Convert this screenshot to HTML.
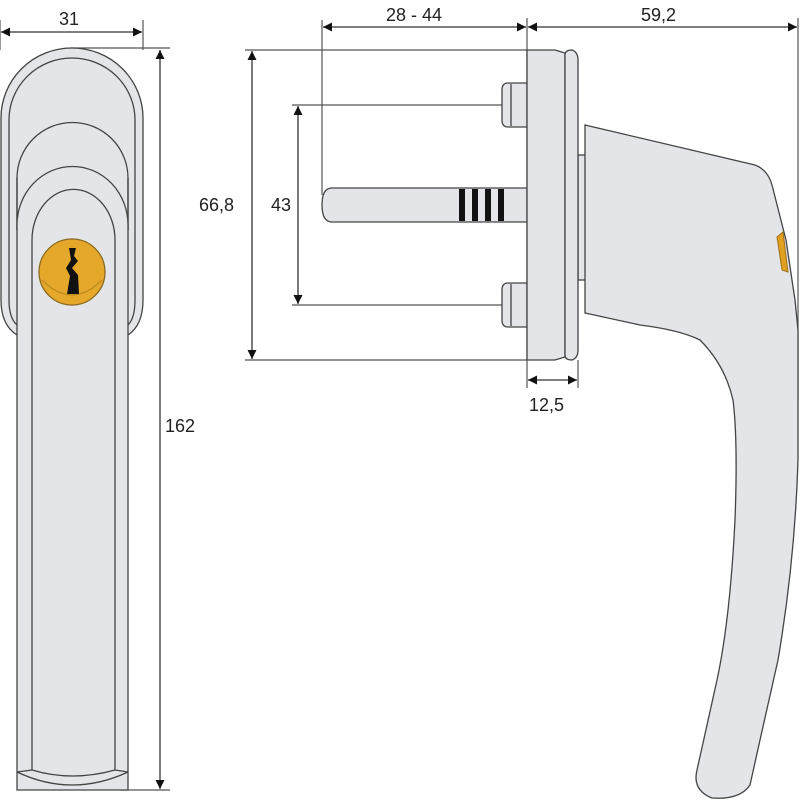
<!DOCTYPE html>
<html><head><style>html,body{margin:0;padding:0;background:#fff}svg{display:block}text{font-family:"Liberation Sans",sans-serif;font-size:18px;fill:#222}</style></head>
<body>
<svg width="800" height="800" viewBox="0 0 800 800" xmlns="http://www.w3.org/2000/svg">
<defs>
<marker id="a" viewBox="0 0 10 10" refX="10" refY="5" markerWidth="12" markerHeight="9" markerUnits="userSpaceOnUse" orient="auto-start-reverse"><path d="M0,0 L10,5 L0,10 z" fill="#111"/></marker>
</defs>
<g stroke="#555" stroke-width="1.2" fill="none">
<line x1="0" y1="20" x2="0" y2="50"/>
<line x1="143" y1="20" x2="143" y2="50"/>
<line x1="70" y1="48" x2="170" y2="48"/>
<line x1="120" y1="790" x2="170" y2="790"/>
<line x1="322" y1="20" x2="322" y2="195"/>
<line x1="527" y1="18" x2="527" y2="388"/>
<line x1="578" y1="360" x2="578" y2="388"/>
<line x1="798" y1="18" x2="798" y2="400"/>
<line x1="245" y1="50" x2="527" y2="50"/>
<line x1="292" y1="105" x2="502" y2="105"/>
<line x1="292" y1="305" x2="502" y2="305"/>
<line x1="245" y1="360" x2="527" y2="360"/>
</g>
<g stroke="#333" stroke-width="1.3" fill="none" marker-start="url(#a)" marker-end="url(#a)">
<line x1="1" y1="32" x2="142" y2="32"/>
<line x1="160" y1="50" x2="160" y2="789"/>
<line x1="323" y1="27" x2="526" y2="27"/>
<line x1="528" y1="27" x2="797" y2="27"/>
<line x1="252" y1="51" x2="252" y2="359"/>
<line x1="298" y1="106" x2="298" y2="304"/>
<line x1="528" y1="380" x2="577" y2="380"/>
</g>
<text x="59" y="25">31</text>
<text x="386" y="21">28 - 44</text>
<text x="641" y="21">59,2</text>
<text x="199" y="211">66,8</text>
<text x="271" y="211">43</text>
<text x="165" y="432">162</text>
<text x="529" y="411">12,5</text>

<!-- left view -->
<g stroke="#444" stroke-width="1.3" fill="#e3e5e8">
<path d="M1,118 A71,70 0 0 1 143,118 L143,300 Q143,325 128,335 L17,335 Q1,325 1,300 Z"/>
<path d="M9,120 A63,62 0 0 1 135,120 L135,300 Q135,318 128,325 M9,120 L9,300 Q9,318 17,325" fill="none"/>
<path d="M17,178 A55,55 0 0 1 128,178 L128,230 L17,230 Z"/>
<path d="M17,230 L17,178 M128,178 L128,230" fill="none"/>
<path d="M17,790 L17,225 A55,58 0 0 1 128,225 L128,790 Z"/>
<path d="M32,770 L32,240 A41,50 0 0 1 115,240 L115,770 Q72,782 32,770 Z"/>
<path d="M17,772 Q72,798 128,772" fill="none"/>
<path d="M17,772 L32,770 M128,772 L115,770" fill="none"/>
</g>
<circle cx="72" cy="272" r="33" fill="#e5a82a" stroke="#8a6a20" stroke-width="1.3"/>
<path d="M42,280 Q72,310 102,280" fill="none" stroke="#b5821c" stroke-width="1"/>
<path d="M69,248 L76,248 L74,256 L78,261 L72,268 L78,275 L79,294 L67,294 L70,276 L66,268 L71,260 Z" fill="#111"/>

<!-- side view -->
<g stroke="#444" stroke-width="1.3" fill="#e3e5e8">
<path d="M322,205 Q322,188 332,188 L527,188 L527,222 L332,222 Q322,222 322,205 Z"/>
<path d="M508,83 L527,83 L527,127 L508,127 Q502,127 502,120 L502,90 Q502,83 508,83 Z"/>
<path d="M508,283 L527,283 L527,327 L508,327 Q502,327 502,320 L502,290 Q502,283 508,283 Z"/>
<line x1="511" y1="84" x2="511" y2="126"/>
<line x1="511" y1="284" x2="511" y2="326"/>
<rect x="578" y="155" width="8" height="125"/>
<path d="M527,50 L555,50 L565,53 L565,357 L555,360 L527,360 Z"/>
<path d="M565,55 Q565,50 572,50 Q578,52 578,60 L578,350 Q578,358 572,360 Q565,360 565,355 Z"/>
<path d="M585,125 L755,165 Q768,170 772,185 L786,240 L795,300 L798,330 L798,460 Q795,560 778,660 L760,740 L750,785 Q740,800 712,798 Q692,790 697,770 L717,680 Q730,620 735,520 Q738,440 733,400 Q725,365 700,340 Q680,330 640,325 L585,313 Z"/>
</g>
<path d="M777,237 L783,232 L788,272 L782,270 Z" fill="#e0a020" stroke="#a07018" stroke-width="1"/>
<g fill="#111">
<rect x="459" y="189" width="6" height="32"/>
<rect x="472" y="189" width="6" height="32"/>
<rect x="485" y="189" width="6" height="32"/>
<rect x="498" y="189" width="6" height="32"/>
</g>
</svg>
</body></html>
